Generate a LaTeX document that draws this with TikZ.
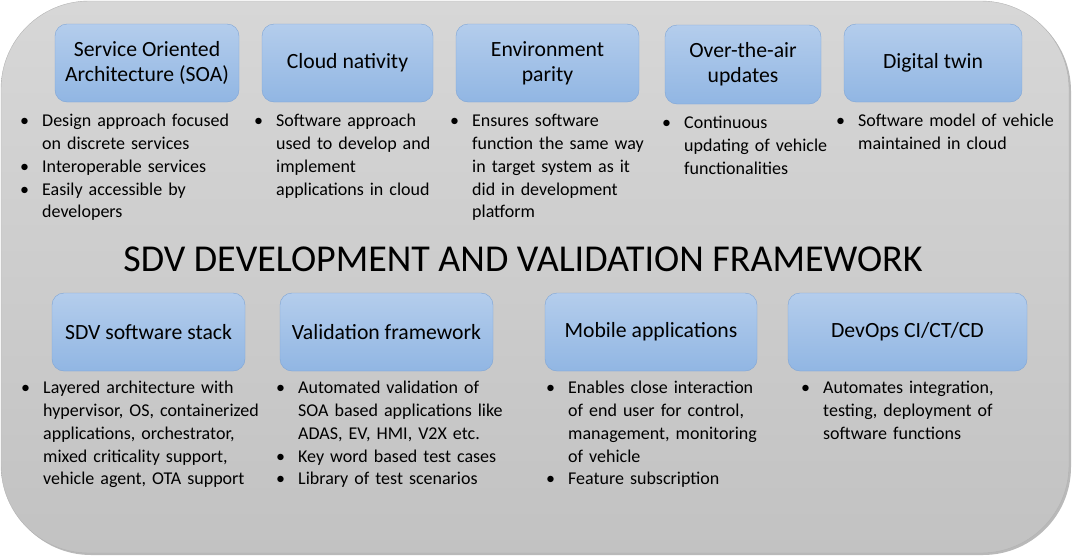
\documentclass[tikz,border=0pt]{standalone}
\usepackage{fontspec}
\setmainfont{Carlito}
\usepackage{enumitem}
\setlist[itemize]{label=\textbullet,leftmargin=22pt,labelwidth=22pt,labelsep=0pt,labelindent=0pt,align=left,nosep}
\definecolor{boxtop}{RGB}{180,205,236}
\definecolor{boxbot}{RGB}{145,182,227}
\definecolor{boxline}{RGB}{126,165,215}
\definecolor{frametop}{RGB}{215,215,215}
\definecolor{framebot}{RGB}{194,194,194}

\begin{document}
\begin{tikzpicture}[x=1pt,y=-1pt,
	pillar/.style={draw=boxline,top color=boxtop,bottom color=boxbot,rounded corners=12pt,minimum height=78pt,align=center,font=\fontsize{21.7}{25}\selectfont,inner sep=2pt},
	points/.style={anchor=north west,inner sep=0pt,text width=250pt,font=\fontsize{18}{22.7}\selectfont}]
				\useasboundingbox (0,0) rectangle (1074,555);
				
				% frame
				\fill[gray!55,rounded corners=88pt] (3,3) rectangle (1071,555);
				\draw[gray!60,top color=frametop,bottom color=framebot,rounded corners=88pt] (1,1) rectangle (1069,553);
				
				\node[pillar,minimum width=184pt] (soa) at (147,63) {Service Oriented\\Architecture (SOA)};
				\node[pillar,minimum width=171pt] (cloud) at (347.5,63) {Cloud nativity};
				\node[pillar,minimum width=183pt] (parity) at (547.5,63) {Environment\\parity};
				\node[pillar,minimum width=156pt,minimum height=79pt] (ota) at (743,64.5) {Over-the-air\\updates};
				\node[pillar,minimum width=178pt] (twin) at (933,63) {Digital twin};
				
				\node[font=\fontsize{38}{45}\selectfont] (title) at (523,259) {SDV DEVELOPMENT AND VALIDATION FRAMEWORK};
				
				\node[pillar,minimum width=193pt] (stack) at (148.5,332) {SDV software stack};
				\node[pillar,minimum width=213pt] (valid) at (386.5,332) {Validation framework};
				\node[pillar,minimum width=212pt] (mobile) at (651,332) {Mobile applications};
				\node[pillar,minimum width=239pt] (devops) at (907.5,332) {DevOps CI/CT/CD};
				
				% bullet lists, top row
				\node[points] (soa-l) at (20,104) {\begin{itemize}
					\item Design approach focused\newline on discrete services
					\item Interoperable services
					\item Easily accessible by\newline developers
				\end{itemize}};
				\node[points] (cloud-l) at (254,104) {\begin{itemize}
					\item Software approach\newline used to develop and\newline implement\newline applications in cloud
				\end{itemize}};
				\node[points] (parity-l) at (450,104) {\begin{itemize}
					\item Ensures software\newline function the same way\newline in target system as it\newline did in development\newline platform
				\end{itemize}};
				\node[points] (ota-l) at (662,106) {\begin{itemize}
					\item Continuous\newline updating of vehicle\newline functionalities
				\end{itemize}};
				\node[points] (twin-l) at (836,104) {\begin{itemize}
					\item Software model of vehicle\newline maintained in cloud
				\end{itemize}};
				
				% bullet lists, bottom row
				\node[points] (stack-l) at (21,371) {\begin{itemize}
					\item Layered architecture with\newline hypervisor, OS, containerized\newline applications, orchestrator,\newline mixed criticality support,\newline vehicle agent, OTA support
				\end{itemize}};
				\node[points] (valid-l) at (276,371) {\begin{itemize}
					\item Automated validation of\newline SOA based applications like\newline ADAS, EV, HMI, V2X etc.
					\item Key word based test cases
					\item Library of test scenarios
				\end{itemize}};
				\node[points] (mobile-l) at (546,371) {\begin{itemize}
					\item Enables close interaction\newline of end user for control,\newline management, monitoring\newline of vehicle
					\item Feature subscription
				\end{itemize}};
				\node[points] (devops-l) at (801,371) {\begin{itemize}
					\item Automates integration,\newline testing, deployment of\newline software functions
				\end{itemize}};
			\end{tikzpicture}
\end{document}
